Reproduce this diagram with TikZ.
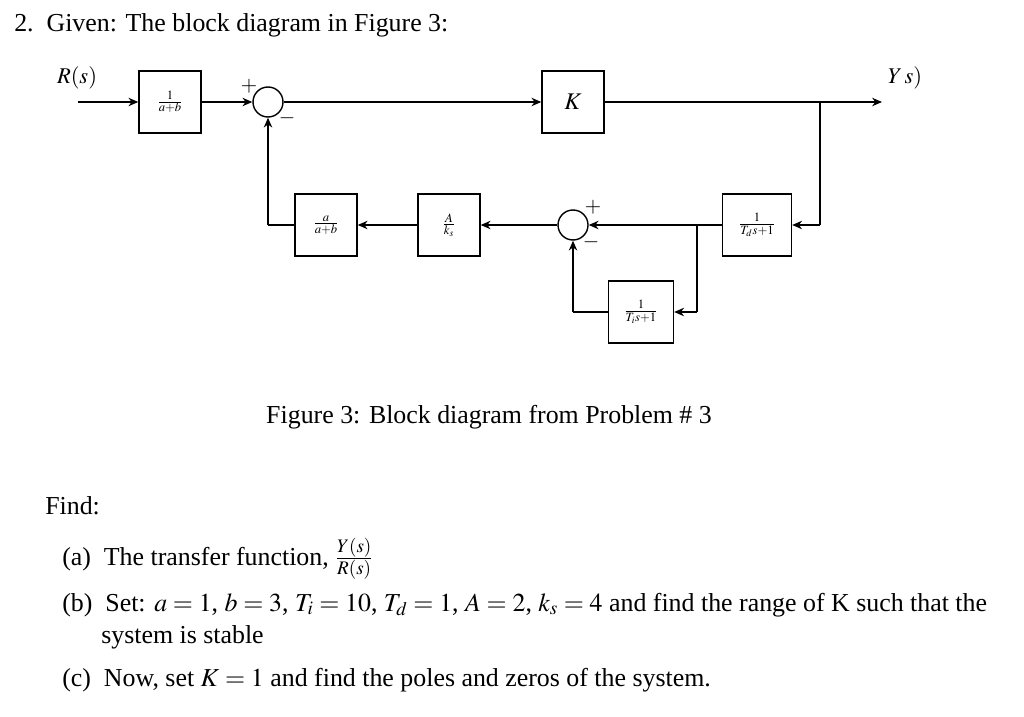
\documentclass[tikz,border=0pt]{standalone}
\usepackage{mathptmx}
\usepackage{fontspec}
\setmainfont{Liberation Serif}
\usetikzlibrary{arrows.meta}
\begin{document}
\begin{tikzpicture}[x=0.025cm,y=-0.025cm,
  blk/.style={draw,line width=1pt,minimum width=62*0.025cm,minimum height=62*0.025cm,inner sep=0pt,font=\fontsize{12}{13}\selectfont},
  sum/.style={draw,circle,line width=1pt,minimum size=30*0.025cm,inner sep=0pt},
  sig/.style={line width=1pt,-{Stealth[length=7pt,width=6pt]}},
  ln/.style={line width=1pt},
  txt/.style={font=\fontsize{18.4}{22}\selectfont,anchor=base west,inner sep=0pt},
  sg/.style={font=\fontsize{15}{15}\selectfont,inner sep=0pt}]
\useasboundingbox (0,0) rectangle (1024,716);
\node[txt] (t1) at (14,32) {2.\ \ Given: The block diagram in Figure 3:};
% diagram
\node[font=\fontsize{16}{16}\selectfont] (R) at (77,78) {$R(s)$};
\node[font=\fontsize{16}{16}\selectfont] (Y) at (905,78) {$Y\,s)$};
\coordinate (in) at (78,102);
\node[blk] (b1) at (170,102) {$\frac{1}{a+b}$};
\node[sum] (s1) at (268,102) {};
\node[sg] (p1) at (249,86) {$+$};
\node[sg] (m1) at (287,118) {$-$};
\node[blk,font=\fontsize{17}{17}\selectfont] (K) at (573,102) {$K$};
\coordinate (out) at (882,102);
\coordinate (br1) at (820,102);
\coordinate (br1d) at (820,225);
\node[blk,minimum width=69*0.025cm] (Td) at (757,225) {$\frac{1}{T_d s+1}$};
\node[sum] (s2) at (573,225) {};
\node[sg] (p2) at (593,207) {$+$};
\node[sg] (m2) at (591,242) {$-$};
\coordinate (br2) at (697,225);
\coordinate (br2d) at (697,312);
\node[blk,minimum width=65*0.025cm] (Ti) at (641,312) {$\frac{1}{T_i s+1}$};
\coordinate (ti2) at (573,312);
\node[blk] (Ak) at (449,225) {$\frac{A}{k_s}$};
\node[blk] (ab) at (326,225) {$\frac{a}{a+b}$};
\coordinate (c1) at (268,225);
\draw[sig] (in) -- (b1);
\draw[sig] (b1) -- (s1);
\draw[sig] (s1) -- (K);
\draw[sig] (K) -- (out);
\draw[ln] (br1) -- (br1d);
\draw[sig] (br1d) -- (Td);
\draw[sig] (Td) -- (s2);
\draw[ln] (br2) -- (br2d);
\draw[sig] (br2d) -- (Ti);
\draw[ln] (Ti) -- (ti2);
\draw[sig] (ti2) -- (s2);
\draw[sig] (s2) -- (Ak);
\draw[sig] (Ak) -- (ab);
\draw[ln] (ab) -- (c1);
\draw[sig] (c1) -- (s1);
% text
\node[font=\fontsize{18.4}{22}\selectfont] (cap) at (489,417) {Figure 3: Block diagram from Problem \# 3};
\node[txt] (f) at (45,514) {Find:};
\node[txt] (a) at (62,565) {(a)\ \ The transfer function, $\frac{Y(s)}{R(s)}$};
\node[txt] (b) at (62,611) {(b)\ \ Set: $a=1$, $b=3$, $T_i=10$, $T_d=1$, $A=2$, $k_s=4$ and find the range of K such that the};
\node[txt] (b2) at (101,643) {system is stable};
\node[txt] (c) at (62,686) {(c)\ \ Now, set $K=1$ and find the poles and zeros of the system.};
\end{tikzpicture}
\end{document}
